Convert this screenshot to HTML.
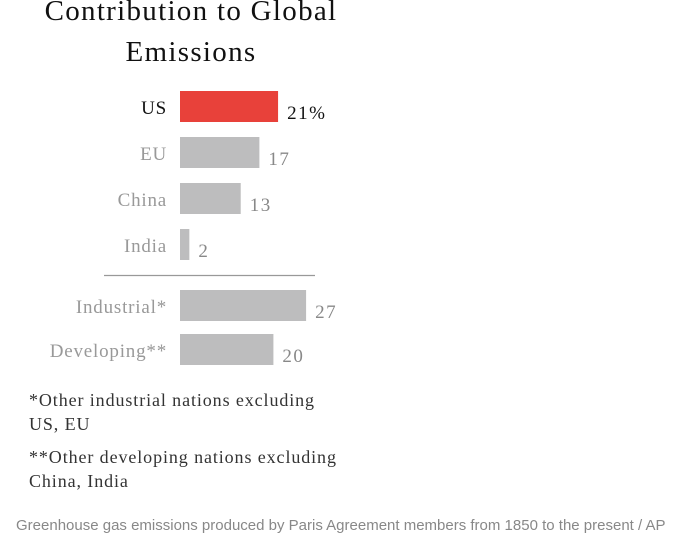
<!DOCTYPE html>
<html><head><meta charset="utf-8"><style>
body{margin:0;width:696px;height:556px;background:#fff;overflow:hidden;position:relative;font-family:"Liberation Serif",serif}
.t{position:absolute;white-space:nowrap}
</style></head><body>
<div class="t" style="left:0;width:382px;text-align:center;top:-9px;font-size:29px;line-height:41px;color:#111;letter-spacing:1.3px">Contribution to Global<br>Emissions</div>
<svg id="c" width="696" height="556" style="position:absolute;left:0;top:0"></svg>
<div class="t" style="left:29px;top:388px;font-size:18px;line-height:24px;color:#333;letter-spacing:0.9px">*Other industrial nations excluding<br>US, EU</div>
<div class="t" style="left:29px;top:445px;font-size:18px;line-height:24px;color:#333;letter-spacing:0.9px">**Other developing nations excluding<br>China, India</div>
<div class="t" style="left:16px;top:517px;font-family:'Liberation Sans',sans-serif;font-size:15px;color:#888">Greenhouse gas emissions produced by Paris Agreement members from 1850 to the present / AP</div>
<script>
const categories=["US","EU","China","India","Industrial*","Developing**"];
const values=[21,17,13,2,27,20];
const valueLabels=["21%","17","13","2","27","20"];
const svg=document.getElementById('c');
const NS="http://www.w3.org/2000/svg";
const x0=180, scale=4.67;
const tops=[91,137,183,229,290,334];
function xs(v){return v*scale;}
categories.forEach((c,i)=>{
  const y=tops[i];
  const r=document.createElementNS(NS,'rect');
  r.setAttribute('x',x0);r.setAttribute('y',y);r.setAttribute('width',xs(values[i]));r.setAttribute('height',31);
  r.setAttribute('fill',i===0?'#e8413a':'#bdbdbe');
  
  
  svg.appendChild(r);
  const l=document.createElementNS(NS,'text');
  l.setAttribute('x',167);l.setAttribute('y',y+23);l.setAttribute('text-anchor','end');
  l.setAttribute('font-size','19');l.setAttribute('font-family','Liberation Serif, serif');l.setAttribute('letter-spacing','0.8');
  l.setAttribute('fill',i===0?'#111':'#999');l.textContent=c;
  
  
  svg.appendChild(l);
  const v=document.createElementNS(NS,'text');
  v.setAttribute('x',x0+xs(values[i])+9);v.setAttribute('y',y+28);
  v.setAttribute('font-size','19');v.setAttribute('font-family','Liberation Serif, serif');v.setAttribute('letter-spacing','1.5');
  v.setAttribute('fill',i===0?'#111':'#888');v.textContent=valueLabels[i];
  
  
  svg.appendChild(v);
});
const ln=document.createElementNS(NS,'line');
ln.setAttribute('x1',104);ln.setAttribute('x2',315);ln.setAttribute('y1',275.5);ln.setAttribute('y2',275.5);
ln.setAttribute('stroke','#999');ln.setAttribute('stroke-width','1.2');


svg.appendChild(ln);
</script>
</body></html>
